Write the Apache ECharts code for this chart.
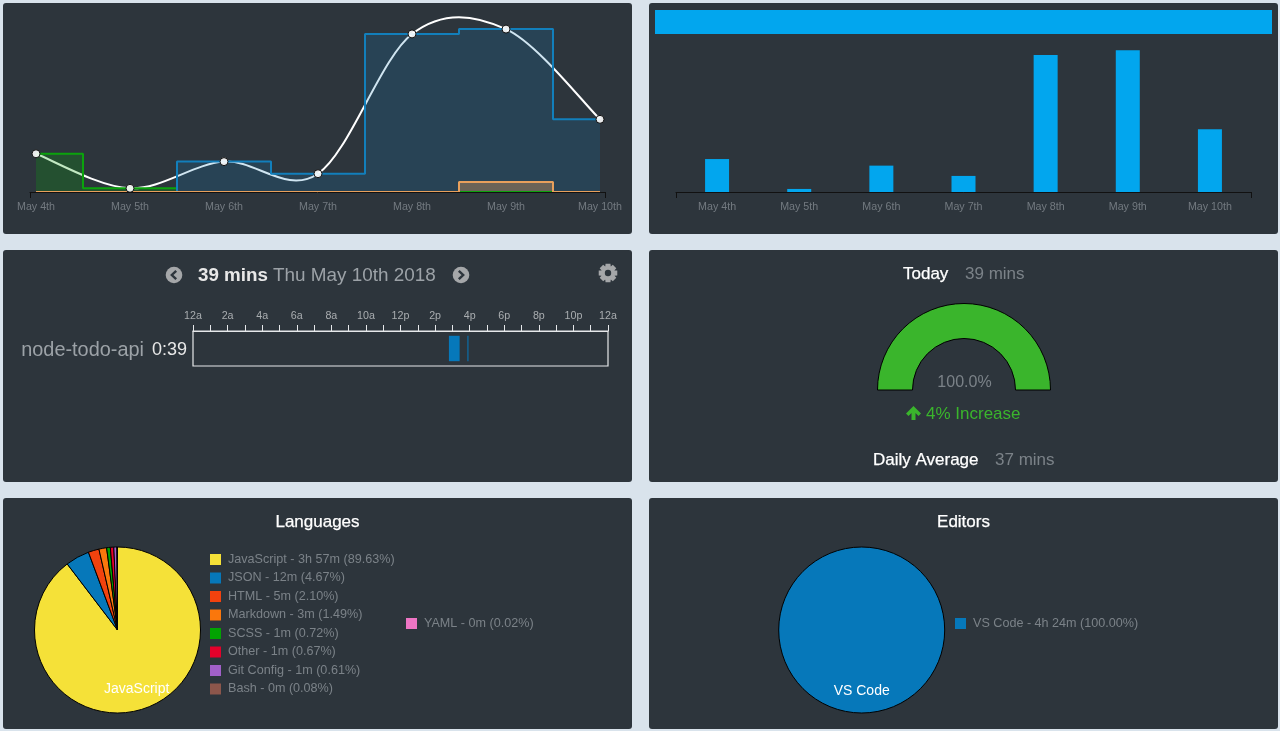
<!DOCTYPE html>
<html>
<head>
<meta charset="utf-8">
<style>
html, body { margin: 0; padding: 0; background: #d9e3ec; }
#main { width: 1280px; height: 731px; }
</style>
<script src="https://cdn.jsdelivr.net/npm/echarts@6/dist/echarts.min.js"></script>
</head>
<body>
<div id="main"></div>
<script>
var days = ['May 4th', 'May 5th', 'May 6th', 'May 7th', 'May 8th', 'May 9th', 'May 10th'];
// minutes per day
var dayTotals = [20.5, 2, 16.3, 9.8, 84.8, 87.4, 39];
var greenLine = [20.5, 2, 0, 0, 0, 0, 0];
var blueLine = [0, 0, 16.3, 9.8, 84.8, 87.4, 39];
var orangeLine = [0, 0, 0, 0, 0, 5.4, 0];
var barTotals = [20.5, 1.9, 16.4, 10, 85.2, 88.1, 39];

var hourLabels = ['12a', '2a', '4a', '6a', '8a', '10a', '12p', '2p', '4p', '6p', '8p', '10p', '12a'];
var projects = ['node-todo-api'];
var projectTimes = ['0:39'];
var sessionStart = [14.8, 15.87];
var sessionEnd = [15.42, 15.93];

var gaugeValues = [100];

var languages = ['JavaScript', 'JSON', 'HTML', 'Markdown', 'SCSS', 'Other', 'Git Config', 'Bash', 'YAML'];
var languageTimes = ['3h 57m', '12m', '5m', '3m', '1m', '1m', '1m', '0m', '0m'];
var languagePcts = [89.63, 4.67, 2.10, 1.49, 0.72, 0.67, 0.61, 0.08, 0.02];
var languageColors = ['#f5e138', '#0678ba', '#f2420e', '#fa770c', '#02a302', '#e4012b', '#a160c8', '#8c564b', '#ee75c4'];

var editors = ['VS Code'];
var editorTimes = ['4h 24m'];
var editorPcts = [100];
var editorColors = ['#0678ba'];

var PANEL = '#2d353c', GREY = '#7b8288', FONT = '"Liberation Sans"';

function pairs(arr) {
	return arr.map(function(v, i) { return [i, v]; });
}
function txt(x, y, text, color, size, weight, align) {
	return {
		type: 'text', x: x, y: y, silent: true,
		style: { text: text, fill: color, font: (weight || 'normal') + ' ' + size + 'px ' + FONT, align: align || 'left', verticalAlign: 'middle' }
	};
}
// headings in the original sit between normal and bold
function heading(x, y, text, size, align) {
	var t = txt(x, y, text, '#ffffff', size, 'normal', align);
	t.style.stroke = '#ffffff';
	t.style.lineWidth = 0.25;
	return t;
}
function panel(x, y, w, h) {
	return { type: 'rect', silent: true, z: -10, shape: { x: x, y: y, width: w, height: h, r: 3 }, style: { fill: PANEL } };
}
function chevron(x, y, dir) {
	return [
		{ type: 'circle', silent: true, shape: { cx: x, cy: y, r: 8.3 }, style: { fill: '#a5a7a9' } },
		{ type: 'polyline', silent: true, shape: { points: [[x - 2.2 * dir, y - 4.2], [x + 2.2 * dir, y], [x - 2.2 * dir, y + 4.2]] }, style: { stroke: PANEL, lineWidth: 2.4, fill: null } }
	];
}
function gear(cx, cy) {
	var pts = [];
	for (var i = 0; i < 8; i++) {
		var a = i * Math.PI / 4;
		[[-0.42, 6.8], [-0.26, 9.6], [0.26, 9.6], [0.42, 6.8]].forEach(function(p) {
			pts.push([cx + p[1] * Math.cos(a + p[0]), cy + p[1] * Math.sin(a + p[0])]);
		});
	}
	return [
		{ type: 'polygon', silent: true, shape: { points: pts }, style: { fill: '#a5a7a9' } },
		{ type: 'circle', silent: true, shape: { cx: cx, cy: cy, r: 3.2 }, style: { fill: PANEL } }
	];
}

// catmull-rom through the daily totals, goes above the points like the original curve
function renderCurve(params, api) {
	var i = params.dataIndex, n = dayTotals.length;
	if (i >= n - 1) return null;
	function pt(k) {
		k = Math.max(0, Math.min(n - 1, k));
		return api.coord([k, dayTotals[k]]);
	}
	var p0 = pt(i - 1), p1 = pt(i), p2 = pt(i + 1), p3 = pt(i + 2);
	return {
		type: 'bezierCurve',
		shape: {
			x1: p1[0], y1: p1[1], x2: p2[0], y2: p2[1],
			cpx1: p1[0] + (p2[0] - p0[0]) / 6, cpy1: p1[1] + (p2[1] - p0[1]) / 6,
			cpx2: p2[0] - (p3[0] - p1[0]) / 6, cpy2: p2[1] - (p3[1] - p1[1]) / 6
		},
		style: { stroke: '#fff', lineWidth: 2, fill: null }
	};
}
function renderSession(params, api) {
	var a = api.coord([api.value(0), 0]), b = api.coord([api.value(1), 0]);
	var h = 25.4;
	return {
		type: 'rect',
		shape: { x: a[0], y: a[1] - h / 2, width: Math.max(b[0] - a[0], 1), height: h },
		style: { fill: '#0678ba' }
	};
}
function stepLine(name, values, color, opacity) {
	return {
		type: 'line', name: name, xAxisIndex: 0, yAxisIndex: 0, step: 'middle', showSymbol: false, clip: false,
		data: pairs(values), lineStyle: { color: color, width: 2 }, itemStyle: { color: color },
		areaStyle: { color: color, opacity: opacity }, silent: true
	};
}
function dayAxis(index, xMin, xMax, ticks) {
	return {
		type: 'value', gridIndex: index, min: xMin, max: xMax, splitLine: { show: false }, z: 10,
		axisLine: { show: true, onZero: false, lineStyle: { color: '#111', width: 1 } },
		axisTick: { show: true, length: 6, customValues: [xMin, xMax], lineStyle: { color: '#111' } },
		axisLabel: {
			customValues: ticks, color: '#737a80', fontSize: 10.7, fontFamily: FONT, margin: 10,
			formatter: function(v) { return days[v]; }
		}
	};
}
function hiddenY(index) {
	return { type: 'value', gridIndex: index, min: 0, max: 100, show: false };
}
function legendFor(names, left, top) {
	return {
		data: names, left: left, top: top, orient: 'vertical', icon: 'rect', selectedMode: false,
		itemWidth: 11, itemHeight: 11, itemGap: 3.5, padding: 0,
		itemStyle: { borderWidth: 0 },
		textStyle: { color: GREY, fontSize: 12.6, fontFamily: FONT, lineHeight: 15, padding: [0, 0, 0, 2] },
		formatter: function(name) {
			var i = languages.indexOf(name);
			if (i >= 0) return name + ' - ' + languageTimes[i] + ' (' + languagePcts[i].toFixed(2) + '%)';
			i = editors.indexOf(name);
			return name + ' - ' + editorTimes[i] + ' (' + editorPcts[i].toFixed(2) + '%)';
		}
	};
}
function pieData(names, values, colors, labelled) {
	return names.map(function(n, i) {
		return { name: n, value: values[i], itemStyle: { color: colors[i] }, label: { show: i === labelled } };
	});
}
function pieSeries(name, data, cx, dx, dy) {
	return {
		type: 'pie', name: name, center: [cx, 630], radius: [0, 83], startAngle: 90, clockwise: true, silent: true,
		data: data, avoidLabelOverlap: false,
		itemStyle: { borderColor: '#000', borderWidth: 1 },
		label: { position: 'inside', color: '#fff', fontSize: 14, fontFamily: FONT },
		labelLine: { show: false },
		labelLayout: { dx: dx, dy: dy }
	};
}

var graphics = [
	panel(3, 3, 629, 231), panel(649, 3, 629, 231),
	panel(3, 250, 629, 232), panel(649, 250, 629, 232),
	panel(3, 498, 629, 231), panel(649, 498, 629, 231),
	{ type: 'rect', silent: true, shape: { x: 655, y: 10, width: 617, height: 24 }, style: { fill: '#02a6ee' } },
	txt(198, 275.5, '39 mins', '#e8e8e8', 18.8, 'bold'),
	txt(273, 275.5, 'Thu May 10th 2018', '#9ca2a7', 18.9),
	heading(903, 274, 'Today', 17),
	txt(965, 274, '39 mins', GREY, 17),
	txt(964.5, 382.5, '100.0%', GREY, 16, 'normal', 'center'),
	txt(926, 414, '4% Increase', '#3ab52c', 17),
	{ type: 'polygon', silent: true, shape: { points: [[913.5, 406], [921, 413.5], [918.5, 416], [915.5, 413], [915.5, 420], [911.5, 420], [911.5, 413], [908.5, 416], [906, 413.5]] }, style: { fill: '#3ab52c' } },
	heading(873, 460, 'Daily Average', 17),
	txt(995, 460, '37 mins', GREY, 17),
	heading(317.5, 522, 'Languages', 17, 'center'),
	heading(963.5, 522, 'Editors', 17, 'center')
].concat(chevron(174, 275, -1), chevron(461, 275, 1), gear(608, 273));

var option = {
	backgroundColor: '#d9e3ec',
	animation: false,
	textStyle: { fontFamily: FONT },
	graphic: { elements: graphics },
	legend: [
		legendFor(languages.slice(0, 8), 210, 552),
		legendFor(languages.slice(8), 406, 616),
		legendFor(editors, 955, 616)
	],
	grid: [
		{ left: 30, top: 5.6, width: 575.5, height: 186.4 },
		{ left: 676, top: 31.2, width: 575, height: 160.8 },
		{ left: 193, top: 331, width: 415, height: 35, show: true, borderColor: '#e6e8ea', borderWidth: 1.2, z: 1 }
	],
	xAxis: [
		dayAxis(0, -6 / 94, 6 + 5.5 / 94, [0, 1, 2, 3, 4, 5, 6]),
		dayAxis(1, -0.5, 6.5, [0, 1, 2, 3, 4, 5, 6]),
		{
			type: 'value', gridIndex: 2, position: 'top', min: 0, max: 24, interval: 2, splitLine: { show: false },
			axisLine: { show: true, lineStyle: { color: '#e6e8ea' } },
			axisTick: { show: true, length: 6, lineStyle: { color: '#e6e8ea' } },
			minorTick: { show: true, splitNumber: 2, length: 6, lineStyle: { color: '#e6e8ea' } },
			axisLabel: {
				color: '#a9adb0', fontSize: 10.7, fontFamily: FONT, margin: 9,
				formatter: function(v) { return hourLabels[v / 2]; }
			}
		}
	],
	yAxis: [
		hiddenY(0),
		hiddenY(1),
		{
			type: 'category', gridIndex: 2, data: projects,
			axisLine: { show: false }, axisTick: { show: false }, splitLine: { show: false },
			axisLabel: {
				margin: 6,
				formatter: function(v, i) { return '{n|' + v + '}{t|' + projectTimes[i] + '}'; },
				rich: {
					n: { color: '#9ca2a7', fontSize: 19.9, fontFamily: FONT, padding: [4, 8, 0, 0] },
					t: { color: '#e8e8e8', fontSize: 18, fontFamily: FONT, padding: [4, 0, 0, 0] }
				}
			}
		}
	],
	series: [
		{
			type: 'custom', name: 'curve', xAxisIndex: 0, yAxisIndex: 0, coordinateSystem: 'cartesian2d',
			renderItem: renderCurve, data: pairs(dayTotals), clip: false, silent: true
		},
		stepLine('green', greenLine, '#0ba30c', 0.25),
		stepLine('blue', blueLine, '#127fbb', 0.2),
		stepLine('orange', orangeLine, '#e8a05c', 0.35),
		{
			type: 'scatter', name: 'totals', xAxisIndex: 0, yAxisIndex: 0, data: pairs(dayTotals), symbolSize: 8, clip: false, silent: true, z: 5,
			itemStyle: { color: 'rgba(255,255,255,0.9)', borderColor: '#111', borderWidth: 1, opacity: 1 }
		},
		{
			type: 'bar', name: 'daily', xAxisIndex: 1, yAxisIndex: 1, data: pairs(barTotals), barWidth: 24, silent: true,
			itemStyle: { color: '#02a6ee' }
		},
		{
			type: 'custom', name: 'sessions', xAxisIndex: 2, yAxisIndex: 2, coordinateSystem: 'cartesian2d',
			renderItem: renderSession, silent: true,
			data: sessionStart.map(function(s, i) { return [s, sessionEnd[i]]; }),
			encode: { x: [0, 1] }
		},
		{
			type: 'pie', name: 'Today', center: [964, 390], radius: [51.5, 86.5], startAngle: 180, endAngle: 0, silent: true,
			data: gaugeValues, label: { show: false }, labelLine: { show: false },
			itemStyle: { color: '#3ab52c', borderColor: '#000', borderWidth: 1 }
		},
		pieSeries('Languages', pieData(languages, languagePcts, languageColors, 0), 117.5, 5, 16.5),
		pieSeries('Editors', pieData(editors, editorPcts, editorColors, 0), 861.7, 0, 16.5)
	]
};

var myChart = echarts.init(document.getElementById('main'));
myChart.setOption(option);
</script>
</body>
</html>
